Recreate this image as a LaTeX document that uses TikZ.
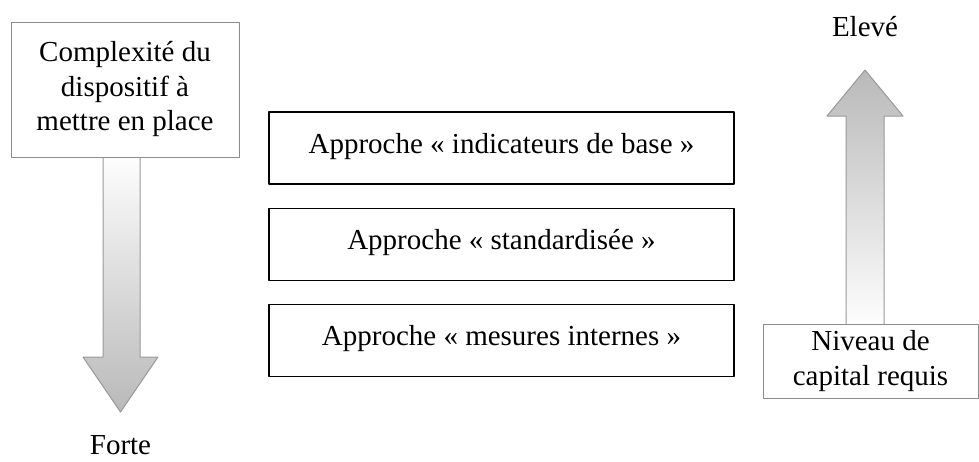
\documentclass[tikz,border=0pt]{standalone}
\usepackage{fontspec}
\setmainfont{Liberation Serif}
\usetikzlibrary{positioning}
\tikzset{
	sidebox/.style={draw=black!45, line width=1pt, fill=white, align=center, inner sep=0pt},
	approche/.style={draw=black, line width=1.3pt, minimum width=465pt, minimum height=72pt, inner sep=0pt, text depth=10pt},
	bigarrow/.style={draw=black!40, line width=1pt}
}
\begin{document}
\begin{tikzpicture}[x=1pt,y=-1pt,line join = round,font=\fontsize{29}{34.5}\selectfont]
			\useasboundingbox (0,0) rectangle (979,461);
			% fleche de gauche, vers le bas
			\shade[bigarrow, top color=white, bottom color=gray!55] (103,150) -- (103,357) -- (83,357) -- (120.5,412) -- (158,357) -- (140,357) -- (140,150) -- cycle;
			% fleche de droite, vers le haut
			\shade[bigarrow, top color=gray!55, bottom color=white] (846,330) -- (846,116) -- (827,116) -- (865,70) -- (903,116) -- (884,116) -- (884,330) -- cycle;
			\node[sidebox, minimum width=228pt, minimum height=135pt] (cplx) at (125,89.5) {Complexité du\\dispositif à\\mettre en place};
			\node[sidebox, minimum width=215pt, minimum height=74pt] (capital) at (870.5,361) {Niveau de\\capital requis};
			\node (forte) at (120.5,445) {Forte};
			\node (eleve) at (865,27) {Elevé};
			\foreach \y/\nom/\txt in {148/base/indicateurs de base, 244.5/std/standardisée, 340.5/interne/mesures internes}
			{
				\node[approche] (\nom) at (501.5,\y) {Approche « \txt\ »};
			}
		\end{tikzpicture}
\end{document}
